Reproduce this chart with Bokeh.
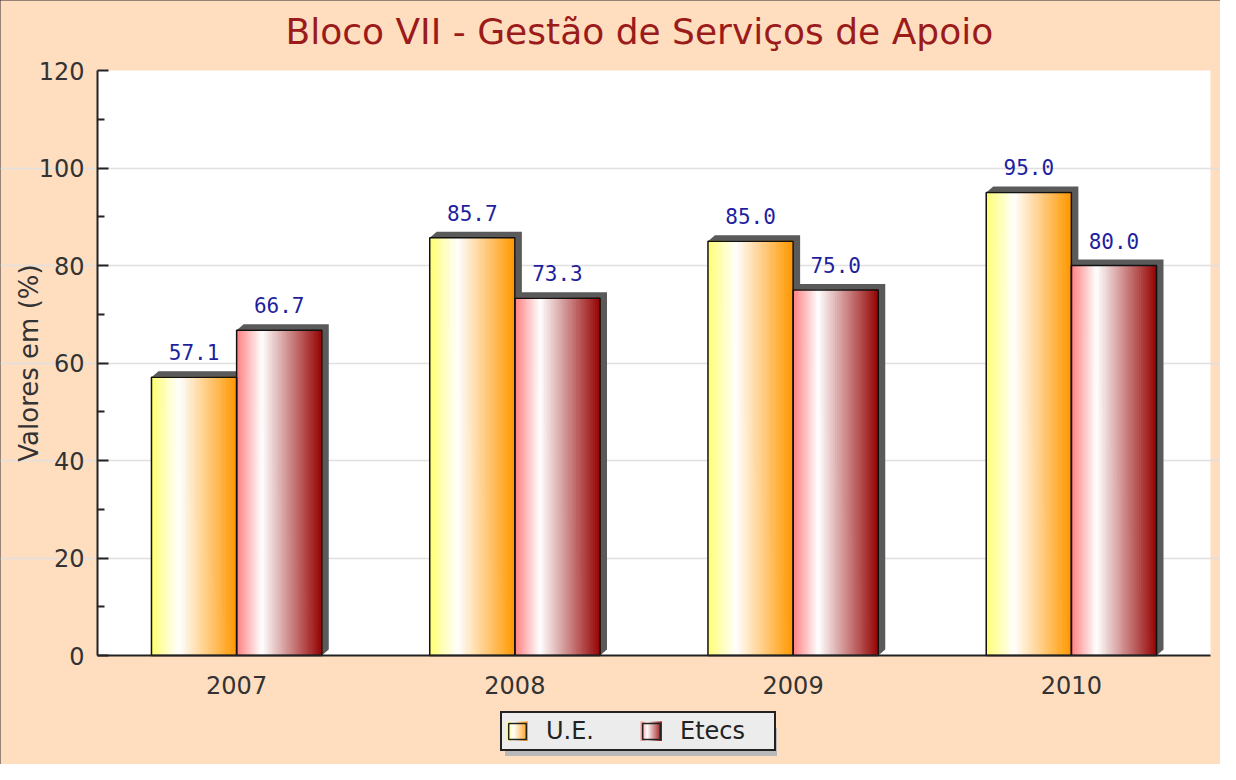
import math
from bokeh.plotting import figure
from bokeh.models import (Range1d, FixedTicker, Legend, LegendItem,
                          BoxAnnotation, Label)
from bokeh.core.properties import value
from bokeh.embed import file_html
from bokeh.resources import INLINE

NaN = float("nan")

# ---- data ----
years = ["2007", "2008", "2009", "2010"]
ue = [57.1, 85.7, 85.0, 95.0]
etecs = [66.7, 73.3, 75.0, 80.0]
series_names = ["U.E.", "Etecs"]
y_ticks = [0, 20, 40, 60, 80, 100, 120]
title_text = "Bloco VII - Gestão de Serviços de Apoio"
y_label = "Valores em (%)"

# ---- styles / layout ----
PAD_L, PAD_R = 97, 10
PLOT_W = 1113         # pixel width of the category area
PLOT_H = 585          # pixel height of the 0..120 value area
PAD_TOP, PAD_BOT = 70, 109
FRAME_W = PAD_L + PLOT_W + PAD_R
FRAME_H = PAD_TOP + PLOT_H + PAD_BOT
PEACH = "#ffdec0"
UE_STOPS = [(0.0, (255, 255, 110)), (0.33, (255, 255, 255)), (1.0, (255, 152, 0))]
ET_STOPS = [(0.0, (255, 125, 125)), (0.30, (255, 255, 255)), (1.0, (150, 5, 5))]
BW = 0.306
N_STRIPS = 40
y0, y1 = y_ticks[0], y_ticks[-1]
nx = len(years)
px_x = PLOT_W / nx
px_y = PLOT_H / (y1 - y0)
DX = 7 / px_x
DY = 6 / px_y


def grad(stops, t):
    for (t0, c0), (t1, c1) in zip(stops[:-1], stops[1:]):
        if t <= t1:
            f = (t - t0) / (t1 - t0) if t1 > t0 else 0
            c = [round(a + (b - a) * f) for a, b in zip(c0, c1)]
            return "#%02x%02x%02x" % tuple(c)
    return "#%02x%02x%02x" % stops[-1][1]


p = figure(frame_width=FRAME_W, frame_height=FRAME_H, output_backend="svg",
           toolbar_location=None, title=None,
           x_range=Range1d(0 - PAD_L / px_x, nx + PAD_R / px_x),
           y_range=Range1d(y0 - PAD_BOT / px_y, y1 + PAD_TOP / px_y),
           min_border_left=0, min_border_right=0, min_border_top=0,
           min_border_bottom=0, background_fill_color=PEACH,
           border_fill_color=PEACH)
p.outline_line_color = None
p.styles = {"outline": "2px solid #2a2a2a", "outline-offset": "-2px"}

# white plotting area
p.add_layout(BoxAnnotation(left=0, right=nx, bottom=y0, top=y1,
                           fill_color="white", fill_alpha=1.0, line_alpha=0,
                           level="image"))

# title
p.add_layout(Label(x=285, y=FRAME_H - 31, x_units="screen", y_units="screen",
                   text=title_text, text_align="left",
                   text_baseline="alphabetic", text_font="DejaVu Sans",
                   text_font_size="36px", text_color="#9b1b1b"))

# y axis title
p.add_layout(Label(x=28, y=PAD_BOT + PLOT_H / 2, x_units="screen",
                   y_units="screen", text=y_label, angle=math.pi / 2,
                   text_align="center", text_baseline="middle",
                   text_font="DejaVu Sans", text_font_size="26px",
                   text_color="#333333"))

# bars geometry
bars = []  # (left, right, top, stops)
for i, (a, b) in enumerate(zip(ue, etecs)):
    c = i + 0.5
    bars.append((c - BW, c, a, UE_STOPS))
    bars.append((c, c + BW, b, ET_STOPS))

# shadows
sxs, sys = [], []
for l, r, t, _ in bars:
    sxs.append([l, l + DX, r + DX, r + DX, r])
    sys.append([t, t + DY, t + DY, y0 + DY, y0])
p.patches(sxs, sys, fill_color="#5a5a5a", line_color=None)

# gradient strips
ql, qr, qt, qc = [], [], [], []
for l, r, t, stops in bars:
    w = (r - l) / N_STRIPS
    for k in range(N_STRIPS):
        ql.append(l + k * w)
        qr.append(l + (k + 1) * w)
        qt.append(t)
        qc.append(grad(stops, (k + 0.5) / N_STRIPS))
p.quad(left=ql, right=qr, top=qt, bottom=y0, fill_color=qc, line_color=qc,
       line_width=1)

# bar borders
p.quad(left=[b[0] for b in bars], right=[b[1] for b in bars],
       top=[b[2] for b in bars], bottom=y0, fill_color=None,
       line_color="#111111", line_width=1.5)

# value labels
p.text(x=[(b[0] + b[1]) / 2 for b in bars], y=[b[2] for b in bars],
       text=["%.1f" % b[2] for b in bars], text_align="center",
       text_baseline="alphabetic", y_offset=-25,
       text_font=value("DejaVu Sans Mono"), text_font_size="21px",
       text_color="#1f1f9f")

# axes
p.xaxis.fixed_location = y0
p.xaxis.bounds = (0, nx)
p.xaxis.ticker = FixedTicker(ticks=[i + 0.5 for i in range(nx)])
p.xaxis.major_label_overrides = {i + 0.5: y for i, y in enumerate(years)}
minor = [(a + b) / 2 for a, b in zip(y_ticks[:-1], y_ticks[1:])]
p.yaxis.fixed_location = 0
p.yaxis.ticker = FixedTicker(ticks=y_ticks, minor_ticks=minor)
p.yaxis.bounds = (y0, y1)
for ax in (p.xaxis[0], p.yaxis[0]):
    ax.axis_line_color = "#222222"
    ax.axis_line_width = 2
    ax.major_label_text_font = "DejaVu Sans"
    ax.major_label_text_font_size = "24px"
    ax.major_label_text_color = "#333333"
p.xaxis.major_tick_line_color = None
p.xaxis.minor_tick_line_color = None
p.xaxis.major_label_standoff = 14
p.yaxis.major_tick_in = 11
p.yaxis.major_tick_out = 0
p.yaxis.minor_tick_in = 7
p.yaxis.minor_tick_out = 0
p.yaxis.major_tick_line_color = "#222222"
p.yaxis.minor_tick_line_color = "#222222"
p.yaxis.major_tick_line_width = 2
p.yaxis.minor_tick_line_width = 2
p.yaxis.major_label_standoff = 13

p.xgrid.grid_line_color = None
p.ygrid.ticker = FixedTicker(ticks=y_ticks[1:-1])
p.ygrid.bounds = (0, nx)
p.ygrid.grid_line_color = "#e0e0e0"
p.ygrid.grid_line_width = 1.5

# legend: gradient icons built from dashed thick line slices
LEG_X, LEG_Y = 500, 13
leg_style = dict(orientation="horizontal", glyph_width=22, glyph_height=20,
                 label_standoff=18, spacing=4, padding=4, label_width=90,
                 label_text_font="DejaVu Sans", label_text_font_size="24px",
                 label_height=20, margin=0)

dummy = p.line(x=[NaN], y=[NaN], line_alpha=0)
shadow = Legend(items=[LegendItem(label=" ", renderers=[dummy])
                       for _ in series_names],
                location=(LEG_X + 5, LEG_Y - 5), label_text_alpha=0,
                border_line_alpha=0, background_fill_color="#b9b9b9",
                background_fill_alpha=1.0, **leg_style)
p.add_layout(shadow)

items = []
N_ICON = 11
SEG = 2
PERIOD = 40
for name, stops in zip(series_names, [UE_STOPS, ET_STOPS]):
    rs = []
    for k in range(N_ICON):
        off = (PERIOD - k * SEG) % PERIOD
        rs.append(p.line(x=[NaN], y=[NaN], line_width=20,
                         line_color=grad(stops, (k + 0.5) / N_ICON),
                         line_dash="%d %d" % (SEG + 1, PERIOD - SEG - 1),
                         line_dash_offset=off, line_cap="butt"))
    rs.append(p.quad(left=[NaN], right=[NaN], top=[NaN], bottom=[NaN],
                     fill_alpha=0, line_color="#222222", line_width=1.5))
    items.append(LegendItem(label=name, renderers=rs))

legend = Legend(items=items, location=(LEG_X, LEG_Y),
                label_text_color="#222222",
                border_line_color="#222222", border_line_width=2,
                border_line_alpha=1.0,
                background_fill_color="#ececec", background_fill_alpha=1.0,
                **leg_style)
p.add_layout(legend)

open("out.html", "w").write(file_html(p, INLINE))
